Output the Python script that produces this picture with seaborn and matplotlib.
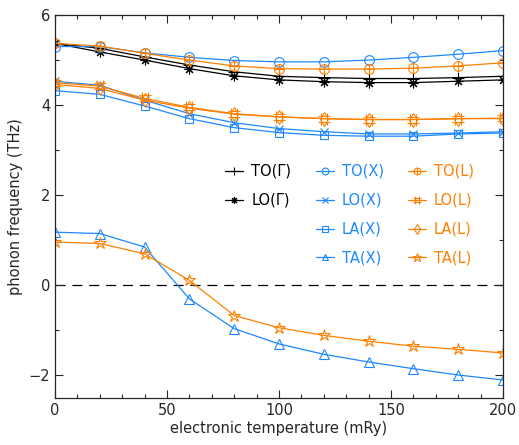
import numpy as np
import pandas as pd
import matplotlib
matplotlib.use("Agg")
import matplotlib.pyplot as plt
import seaborn as sns
from matplotlib.path import Path
from matplotlib.lines import Line2D
from matplotlib.ticker import MultipleLocator

temperature = [0, 20, 40, 60, 80, 100, 120, 140, 160, 180, 200]

TO_G = [5.37, 5.26, 5.07, 4.89, 4.74, 4.64, 4.61, 4.59, 4.59, 4.61, 4.64]
LO_G = [5.37, 5.18, 5.00, 4.81, 4.65, 4.56, 4.52, 4.50, 4.50, 4.53, 4.56]
TO_X = [5.30, 5.30, 5.16, 5.06, 4.99, 4.96, 4.96, 5.00, 5.06, 5.13, 5.21]
LO_X = [4.53, 4.44, 4.11, 3.81, 3.61, 3.48, 3.41, 3.36, 3.36, 3.38, 3.41]
LA_X = [4.32, 4.24, 3.98, 3.70, 3.50, 3.39, 3.33, 3.31, 3.31, 3.36, 3.38]
TA_X = [1.18, 1.15, 0.85, -0.30, -0.96, -1.30, -1.53, -1.70, -1.85, -1.99, -2.10]
TO_L = [5.37, 5.31, 5.15, 5.00, 4.87, 4.81, 4.80, 4.80, 4.82, 4.87, 4.94]
LO_L = [4.50, 4.42, 4.15, 3.95, 3.81, 3.74, 3.70, 3.68, 3.68, 3.70, 3.71]
LA_L = [4.46, 4.37, 4.11, 3.93, 3.80, 3.74, 3.70, 3.68, 3.68, 3.70, 3.70]
TA_L = [0.96, 0.93, 0.70, 0.11, -0.67, -0.94, -1.11, -1.24, -1.35, -1.42, -1.50]

labels = ["TO(Γ)", "LO(Γ)", "TO(X)", "LO(X)", "LA(X)", "TA(X)",
          "TO(L)", "LO(L)", "LA(L)", "TA(L)"]
series = [TO_G, LO_G, TO_X, LO_X, LA_X, TA_X, TO_L, LO_L, LA_L, TA_L]

BLACK = "#000000"
BLUE = "#1e88ff"
ORANGE = "#ff8000"
colors = [BLACK, BLACK, BLUE, BLUE, BLUE, BLUE, ORANGE, ORANGE, ORANGE, ORANGE]

circ_plus = Path.make_compound_path(
    Path.unit_circle(),
    Path([[-1, 0], [1, 0], [0, -1], [0, 1]],
         [Path.MOVETO, Path.LINETO, Path.MOVETO, Path.LINETO]))
hash_mark = Path([[-1, 0.5], [1, 0.5], [-1, -0.5], [1, -0.5],
                  [0.5, -1], [0.5, 1], [-0.5, -1], [-0.5, 1]],
                 [Path.MOVETO, Path.LINETO] * 4)
markers = ["+", (8, 2, 0), "o", "x", "s", "^", circ_plus, hash_mark, "d", "*"]
msizes = [8, 7, 7, 6, 6, 7, 7, 8, 7, 9]

rows = []
for lab, vals in zip(labels, series):
    for t, v in zip(temperature, vals):
        rows.append({"T": t, "freq": v, "mode": lab})
df = pd.DataFrame(rows)

sns.set_style("ticks")
plt.rcParams["font.family"] = ["DejaVu Sans"]
plt.rcParams["font.size"] = 10

fig = plt.figure(figsize=(5.19, 4.45), dpi=100)
ax = fig.add_axes([55 / 519, 1 - 398 / 445, 448 / 519, 383 / 445])

handles = []
for lab, col, mk, ms in zip(labels, colors, markers, msizes):
    sub = df[df["mode"] == lab]
    sns.lineplot(data=sub, x="T", y="freq", ax=ax, color=col, marker=mk,
                 markersize=ms, markerfacecolor="none", markeredgecolor=col,
                 markeredgewidth=0.8, linewidth=0.9, legend=False)
    handles.append(Line2D([], [], color=col, marker=mk, markersize=ms * 0.7,
                          markerfacecolor="none", markeredgecolor=col,
                          markeredgewidth=0.8, linewidth=0.9))

ax.axhline(0, color="black", lw=0.9, ls=(0, (8, 5.5)), zorder=0)

ax.set_xlim(0, 200)
ax.set_ylim(-2.5, 6)
ax.xaxis.set_major_locator(MultipleLocator(50))
ax.xaxis.set_minor_locator(MultipleLocator(10))
ax.yaxis.set_major_locator(MultipleLocator(2))
ax.yaxis.set_minor_locator(MultipleLocator(1))
ax.tick_params(which="both", direction="in", top=True, right=True,
               labelsize=10.5, width=0.8)
ax.tick_params(which="major", length=6)
ax.tick_params(which="minor", length=3)
for s in ax.spines.values():
    s.set_linewidth(0.9)
ax.set_xlabel("electronic temperature (mRy)", fontsize=10.5, labelpad=2)
ax.set_ylabel("phonon frequency (THz)", fontsize=10.5, labelpad=4)

blank = Line2D([], [], alpha=0)
leg_handles = [handles[0], handles[1], blank, blank,
               handles[2], handles[3], handles[4], handles[5],
               handles[6], handles[7], handles[8], handles[9]]
leg_labels = [labels[0], labels[1], " ", " ",
              labels[2], labels[3], labels[4], labels[5],
              labels[6], labels[7], labels[8], labels[9]]
leg_colors = [BLACK, BLACK, BLACK, BLACK] + [BLUE] * 4 + [ORANGE] * 4
leg = ax.legend(leg_handles, leg_labels, ncol=3, frameon=False,
                loc="upper left", bbox_to_anchor=(0.38, 0.611),
                fontsize=10.5, handlelength=1.25, handletextpad=0.55,
                columnspacing=1.65, labelspacing=0.95, borderaxespad=0,
                borderpad=0)
for txt, c in zip(leg.get_texts(), leg_colors):
    txt.set_color(c)

fig.savefig("out.png", dpi=100)
